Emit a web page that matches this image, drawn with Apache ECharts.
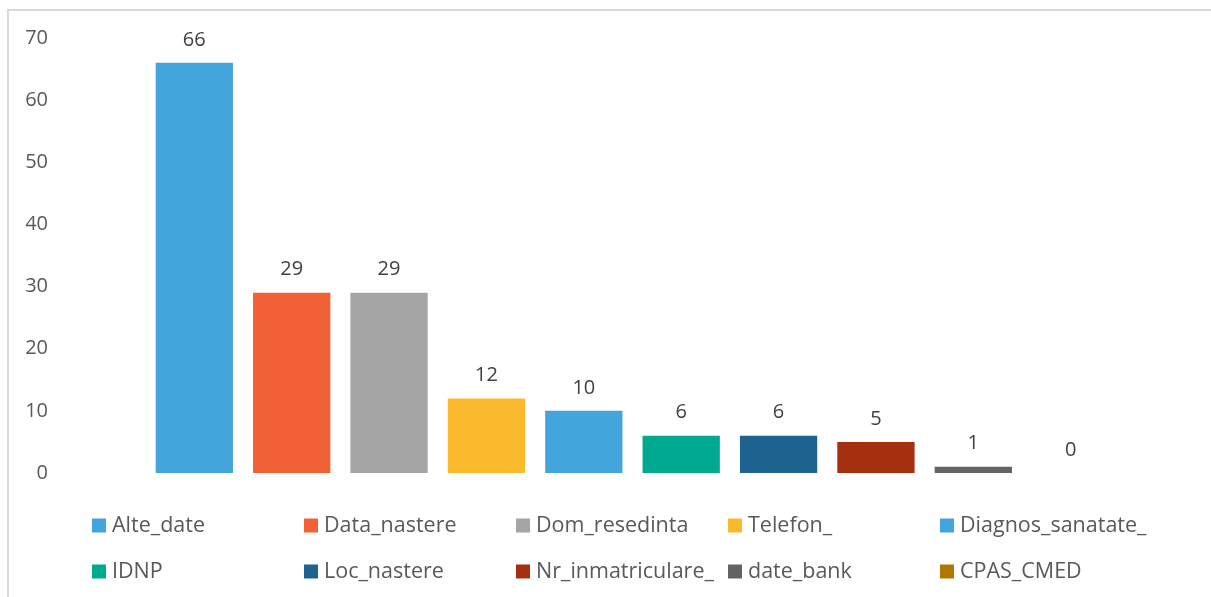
<!DOCTYPE html>
<html>
<head>
<meta charset="utf-8">
<script src="https://cdn.jsdelivr.net/npm/echarts@6/dist/echarts.min.js"></script>
<style>
  html, body { margin: 0; padding: 0; background: #fff; }
  #frame {
    position: absolute; left: 7px; top: 9px; width: 1210px; height: 600px;
    border-left: 2px solid #D9D9D9; border-top: 2px solid #D9D9D9;
  }
  #chart { position: absolute; left: 0; top: 0; width: 1211px; height: 597px; }
</style>
</head>
<body>
<div id="frame"></div>
<div id="chart"></div>
<script>
  // date din grafic
  const names = ['Alte_date', 'Data_nastere', 'Dom_resedinta', 'Telefon_', 'Diagnos_sanatate_',
    'IDNP', 'Loc_nastere', 'Nr_inmatriculare_', 'date_bank', 'CPAS_CMED'];
  const values = [66, 29, 29, 12, 10, 6, 6, 5, 1, 0];
  const colors = ['#43A5DC', '#F06236', '#A5A5A5', '#FBBA2E', '#43A5DC',
    '#00A98F', '#1C638F', '#A52F0E', '#636363', '#AF7800'];
  const yTicks = [0, 10, 20, 30, 40, 50, 60, 70];

  const chart = echarts.init(document.getElementById('chart'));
  chart.setOption({
    animation: false,
    textStyle: { fontFamily: 'Open Sans' },
    grid: { left: 58, right: 4, top: 38, bottom: 124 },
    legend: {
      left: 92,
      top: 509,
      padding: 0,
      width: 1080,
      itemWidth: 14,
      itemHeight: 14,
      itemGap: 13,
      icon: 'rect',
      data: names,
      textStyle: { fontSize: 21.5, color: '#595959', width: 179, lineHeight: 33, padding: [0, 0, 0, 1] }
    },
    xAxis: {
      type: 'category',
      data: [''],
      axisLine: { show: false },
      axisTick: { show: false },
      axisLabel: { show: false }
    },
    yAxis: {
      type: 'value',
      min: yTicks[0],
      max: yTicks[yTicks.length - 1],
      interval: 10,
      splitLine: { show: false },
      axisLine: { show: false },
      axisTick: { show: false },
      axisLabel: { fontSize: 20, color: '#595959', margin: 10 }
    },
    series: names.map((n, i) => ({
      name: n,
      type: 'bar',
      data: [values[i]],
      barGap: '26%',
      barCategoryGap: '17%',
      itemStyle: { color: colors[i] },
      label: { show: true, position: 'top', distance: 13, fontSize: 20, color: '#404040' }
    }))
  });
</script>
</body>
</html>
